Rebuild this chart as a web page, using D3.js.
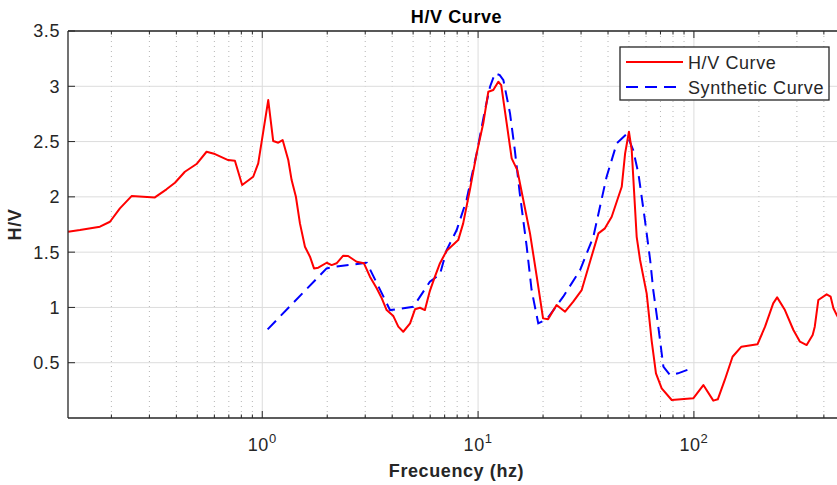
<!DOCTYPE html>
<html>
<head>
<meta charset="utf-8">
<script src="https://cdn.jsdelivr.net/npm/d3@7"></script>
<style>
  body { margin: 0; background: #fff; }
  svg text { font-family: "Liberation Sans", Arial, sans-serif; fill: #262626; }
</style>
</head>
<body>
<svg id="chart" width="837" height="485"></svg>
<script>
// measured H/V curve
const hvFreq = [0.126, 0.143, 0.177, 0.197, 0.219, 0.248, 0.318, 0.360, 0.394, 0.438, 0.496, 0.552, 0.604, 0.695, 0.747,
  0.807, 0.908, 0.958, 1.066, 1.124, 1.186, 1.243, 1.32, 1.368, 1.432, 1.495, 1.577, 1.664, 1.737, 1.818, 1.988, 2.097,
  2.21, 2.372, 2.5, 2.737, 2.96, 3.155, 3.39, 3.58, 3.77, 4.05, 4.27, 4.5, 4.84, 5.10, 5.38, 5.67, 5.98, 6.31, 6.66,
  7.15, 8.09, 8.53, 9.16, 9.85, 10.57, 11.15, 11.76, 12.41, 12.8, 13.57, 14.31, 15.2, 16.2, 17.4, 18.7, 20.0, 21.1,
  23.1, 25.3, 27.6, 30.2, 33.0, 36.1, 38.7, 41.6, 46.3, 48.0, 50.0, 51.5, 54.3, 56.3, 60.4, 63.7, 66.7, 70.9, 78.9,
  99.3, 110.6, 123, 129, 139, 151, 166, 197, 213.6, 233, 243, 264, 289, 310, 333, 355, 363, 377, 412, 430, 443, 459, 475]
const hvVals = [1.685, 1.70, 1.73, 1.775, 1.896, 2.007, 1.995, 2.068, 2.128, 2.227, 2.297, 2.408, 2.387, 2.333, 2.326,
  2.107, 2.182, 2.303, 2.875, 2.505, 2.49, 2.514, 2.333, 2.152, 2.001, 1.760, 1.549, 1.459, 1.353, 1.359, 1.404, 1.383,
  1.399, 1.468, 1.465, 1.413, 1.399, 1.278, 1.173, 1.082, 0.976, 0.922, 0.826, 0.780, 0.856, 0.983, 0.997, 0.976, 1.15,
  1.278, 1.40, 1.513, 1.609, 1.760, 2.062, 2.393, 2.665, 2.950, 2.966, 3.041, 3.011, 2.665, 2.348, 2.242, 1.971, 1.670,
  1.278, 0.901, 0.893, 1.022, 0.961, 1.052, 1.157, 1.413, 1.670, 1.715, 1.82, 2.091, 2.393, 2.589, 2.423, 1.639, 1.429,
  1.127, 0.70, 0.404, 0.268, 0.163, 0.178, 0.298, 0.157, 0.169, 0.344, 0.554, 0.645, 0.666, 0.826, 1.037, 1.091, 0.976,
  0.796, 0.690, 0.660, 0.750, 0.826, 1.067, 1.118, 1.097, 0.992, 0.931, 0.88]

// synthetic (model) curve
const synFreq = [1.059, 1.987, 2.17, 3.05, 3.91, 5.01, 5.98, 6.66, 7.15, 7.96, 8.84, 9.85, 10.76, 11.36, 11.97, 12.6,
  13.1, 14.06, 14.8, 15.6, 16.8, 17.7, 19.0, 20.8, 24.8, 29.7, 34.2, 39.4, 43.9, 48.8, 52.3, 55.3, 59.3, 62.7, 64.8,
  68.4, 72.2, 77.5, 84.4, 97.7]
const synVals = [0.802, 1.353, 1.368, 1.404, 0.976, 1.006, 1.233, 1.30, 1.519, 1.70, 1.971, 2.393, 2.785, 2.996, 3.117,
  3.101, 3.056, 2.755, 2.423, 2.032, 1.549, 1.157, 0.856, 0.893, 1.097, 1.338, 1.639, 2.182, 2.484, 2.568, 2.423, 2.212,
  1.79, 1.429, 1.157, 0.826, 0.464, 0.389, 0.404, 0.449]

const yTicks = [0.5, 1, 1.5, 2, 2.5, 3, 3.5]
const yTickLabels = ["0.5", "1", "1.5", "2", "2.5", "3", "3.5"]
const xDecades = [0, 1, 2]
const legendLabels = ["H/V Curve", "Synthetic Curve"]
const legendColors = ["#ff0000", "#0000ff"]
const legendDash = [null, "12,7"]

const MARGIN = { LEFT: 68, TOP: 31 }
const WIDTH = 777
const HEIGHT = 387

const svg = d3.select("#chart")
const g = svg.append("g").attr("transform", `translate(${MARGIN.LEFT}, ${MARGIN.TOP})`)

const x = d3.scaleLog().domain([Math.pow(10, -0.9), Math.pow(10, 2.7)]).range([0, WIDTH])
const y = d3.scaleLinear().domain([0, 3.5]).range([HEIGHT, 0])

// minor ticks 2..9 per decade
const minorTicks = []
for (let k = -1; k <= 2; k++) {
  for (let m = 2; m <= 9; m++) {
    const v = m * Math.pow(10, k)
    if (v > x.domain()[0] && v < x.domain()[1]) minorTicks.push(v)
  }
}
const majorTicks = xDecades.map(d => Math.pow(10, d))

// grid
g.selectAll(".minor-grid").data(minorTicks).join("line")
  .attr("x1", d => x(d)).attr("x2", d => x(d))
  .attr("y1", 0).attr("y2", HEIGHT)
  .attr("stroke", "#b5b5b5").attr("stroke-width", 1).attr("stroke-dasharray", "1,4")
g.selectAll(".major-grid").data(majorTicks).join("line")
  .attr("x1", d => x(d)).attr("x2", d => x(d))
  .attr("y1", 0).attr("y2", HEIGHT)
  .attr("stroke", "#dcdcdc").attr("stroke-width", 1)
g.selectAll(".y-grid").data(yTicks).join("line")
  .attr("x1", 0).attr("x2", WIDTH)
  .attr("y1", d => y(d)).attr("y2", d => y(d))
  .attr("stroke", "#dcdcdc").attr("stroke-width", 1)

// curves
svg.append("defs").append("clipPath").attr("id", "clip")
  .append("rect").attr("width", WIDTH).attr("height", HEIGHT)

const line = d3.line().x(d => x(d[0])).y(d => y(d[1]))
g.append("path")
  .attr("clip-path", "url(#clip)")
  .attr("d", line(d3.zip(synFreq, synVals)))
  .attr("fill", "none").attr("stroke", "#0000ff").attr("stroke-width", 2)
  .attr("stroke-dasharray", "12,7")
g.append("path")
  .attr("clip-path", "url(#clip)")
  .attr("d", line(d3.zip(hvFreq, hvVals)))
  .attr("fill", "none").attr("stroke", "#ff0000").attr("stroke-width", 2)
  .attr("stroke-linejoin", "round")

// axes box and ticks
const axisColor = "#262626"
g.append("line").attr("x1", 0).attr("x2", 0).attr("y1", 0).attr("y2", HEIGHT)
  .attr("stroke", axisColor).attr("stroke-width", 1.3)
g.append("line").attr("x1", 0).attr("x2", WIDTH).attr("y1", HEIGHT).attr("y2", HEIGHT)
  .attr("stroke", axisColor).attr("stroke-width", 1.3)
g.append("line").attr("x1", 0).attr("x2", WIDTH).attr("y1", 0).attr("y2", 0)
  .attr("stroke", axisColor).attr("stroke-width", 1.3)

const xt = minorTicks.map(d => ({ v: d, len: 3.5 })).concat(majorTicks.map(d => ({ v: d, len: 7 })))
g.selectAll(".xt-b").data(xt).join("line")
  .attr("x1", d => x(d.v)).attr("x2", d => x(d.v))
  .attr("y1", HEIGHT).attr("y2", d => HEIGHT - d.len)
  .attr("stroke", axisColor).attr("stroke-width", 1)
g.selectAll(".xt-t").data(xt).join("line")
  .attr("x1", d => x(d.v)).attr("x2", d => x(d.v))
  .attr("y1", 0).attr("y2", d => d.len)
  .attr("stroke", axisColor).attr("stroke-width", 1)
g.selectAll(".yt").data(yTicks).join("line")
  .attr("x1", 0).attr("x2", 7)
  .attr("y1", d => y(d)).attr("y2", d => y(d))
  .attr("stroke", axisColor).attr("stroke-width", 1)

// tick labels
g.selectAll(".ylab").data(yTicks).join("text")
  .attr("x", -8).attr("y", d => y(d)).attr("dy", "0.36em")
  .attr("text-anchor", "end").attr("font-size", "18px").attr("letter-spacing", "0.6px")
  .text((d, i) => yTickLabels[i])

const xl = g.selectAll(".xlab").data(xDecades).join("text")
  .attr("x", d => x(Math.pow(10, d))).attr("y", 420)
  .attr("text-anchor", "middle").attr("font-size", "18px").attr("letter-spacing", "0.6px")
xl.append("tspan").text("10")
xl.append("tspan").attr("dy", -8).attr("font-size", "13px").text(d => d)

// titles
svg.append("text").attr("x", MARGIN.LEFT + WIDTH / 2).attr("y", 23)
  .attr("text-anchor", "middle").attr("font-size", "18px").attr("font-weight", "bold")
  .attr("letter-spacing", "0.6px").style("fill", "#000").text("H/V Curve")
svg.append("text").attr("x", MARGIN.LEFT + WIDTH / 2).attr("y", 477)
  .attr("text-anchor", "middle").attr("font-size", "18px").attr("font-weight", "bold")
  .attr("letter-spacing", "0.6px").text("Frecuency (hz)")
svg.append("text").attr("transform", `translate(21, ${MARGIN.TOP + HEIGHT / 2}) rotate(-90)`)
  .attr("text-anchor", "middle").attr("font-size", "18px").attr("font-weight", "bold")
  .attr("letter-spacing", "0.6px").text("H/V")

// legend
const legend = svg.append("g").attr("transform", "translate(620, 47)")
legend.append("rect").attr("width", 209).attr("height", 53)
  .attr("fill", "#fff").attr("stroke", axisColor).attr("stroke-width", 1.3)
const items = legend.selectAll(".item").data(legendLabels).join("g")
  .attr("transform", (d, i) => `translate(0, ${15 + i * 25})`)
items.append("line").attr("x1", 6).attr("x2", 63).attr("y1", 0).attr("y2", 0)
  .attr("stroke", (d, i) => legendColors[i]).attr("stroke-width", 2)
  .attr("stroke-dasharray", (d, i) => legendDash[i])
items.append("text").attr("x", 68).attr("y", 6.5)
  .attr("font-size", "18px").attr("letter-spacing", "0.6px").text(d => d)
</script>
</body>
</html>
